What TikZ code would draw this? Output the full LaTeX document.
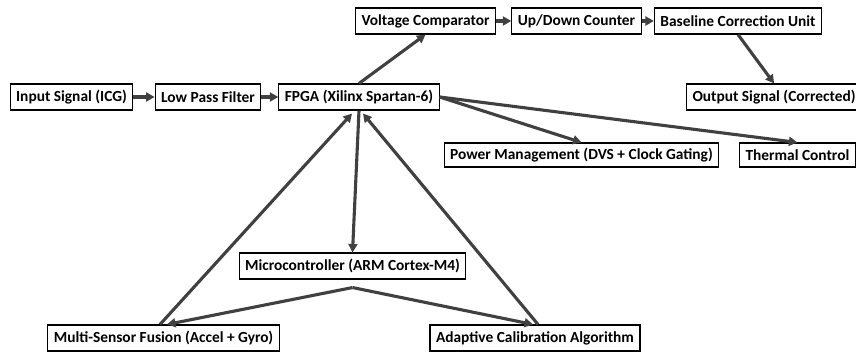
\documentclass[tikz,border=0pt]{standalone}
\usepackage{fontspec}
\setmainfont{Carlito}
\usepackage{tikz}
\usetikzlibrary{arrows.meta}
\definecolor{linkgray}{RGB}{64,64,64}
\tikzset{>={Triangle[length=8.5pt,width=9pt]}}

\begin{document}
\begin{tikzpicture}[x=1pt, y=-1pt,
	block/.style={draw=black, line width=1.1pt, fill=white, inner xsep=6pt, inner ysep=0pt,
		minimum height=26pt, font=\fontsize{15.4pt}{18pt}\selectfont\bfseries},
	link/.style={->, linkgray, line width=3.1pt}]

	\useasboundingbox (0,0) rectangle (856,352);

	% signal chain
	\node[block] (insig) at (71.5,97) {Input Signal (ICG)};
	\node[block] (lpf) at (208,97) {Low Pass Filter};
	\node[block] (fpga) at (359,97) {FPGA (Xilinx Spartan-6)};

	\node[block] (vcomp) at (425.5,21) {Voltage Comparator};
	\node[block] (udcnt) at (576.5,21) {Up/Down Counter};
	\node[block] (bcu) at (738,21) {Baseline Correction Unit};
	\node[block, anchor=west] (outsig) at (686,97) {Output Signal (Corrected)};

	\node[block, minimum height=24pt] (pwr) at (581.5,155) {Power Management (DVS + Clock Gating)};
	\node[block, minimum height=24pt, anchor=west] (therm) at (739,155) {Thermal Control};

	\node[block] (mcu) at (352.5,266) {Microcontroller (ARM Cortex-M4)};
	\node[block] (fusion) at (163.5,338) {Multi-Sensor Fusion (Accel + Gyro)};
	\node[block] (calib) at (535,338) {Adaptive Calibration Algorithm};

	% connectors
	\draw[link] (insig) -- (lpf);
	\draw[link] (lpf) -- (fpga);
	\draw[link] (fpga.north) -- (vcomp.south);
	\draw[link] (vcomp) -- (udcnt);
	\draw[link] (udcnt) -- (bcu);
	\draw[link] (bcu.south) -- (outsig.north);
	\draw[link] (fpga.east) -- (pwr.north);
	\draw[link] (fpga.east) -- (therm.north);
	\draw[link] (fpga.south) -- (mcu.north);
	\draw[link] ([xshift=-3.5pt]fusion.north) -- ([xshift=-7pt, yshift=-3pt]fpga.south);
	\draw[link] ([xshift=3pt]calib.north) -- ([xshift=4pt, yshift=-3pt]fpga.south);
	\draw[link] ([yshift=-8pt]mcu.south) -- ([xshift=3.5pt]fusion.north);
	\draw[link] ([yshift=-8pt]mcu.south) -- ([xshift=-2pt]calib.north);
\end{tikzpicture}
\end{document}
